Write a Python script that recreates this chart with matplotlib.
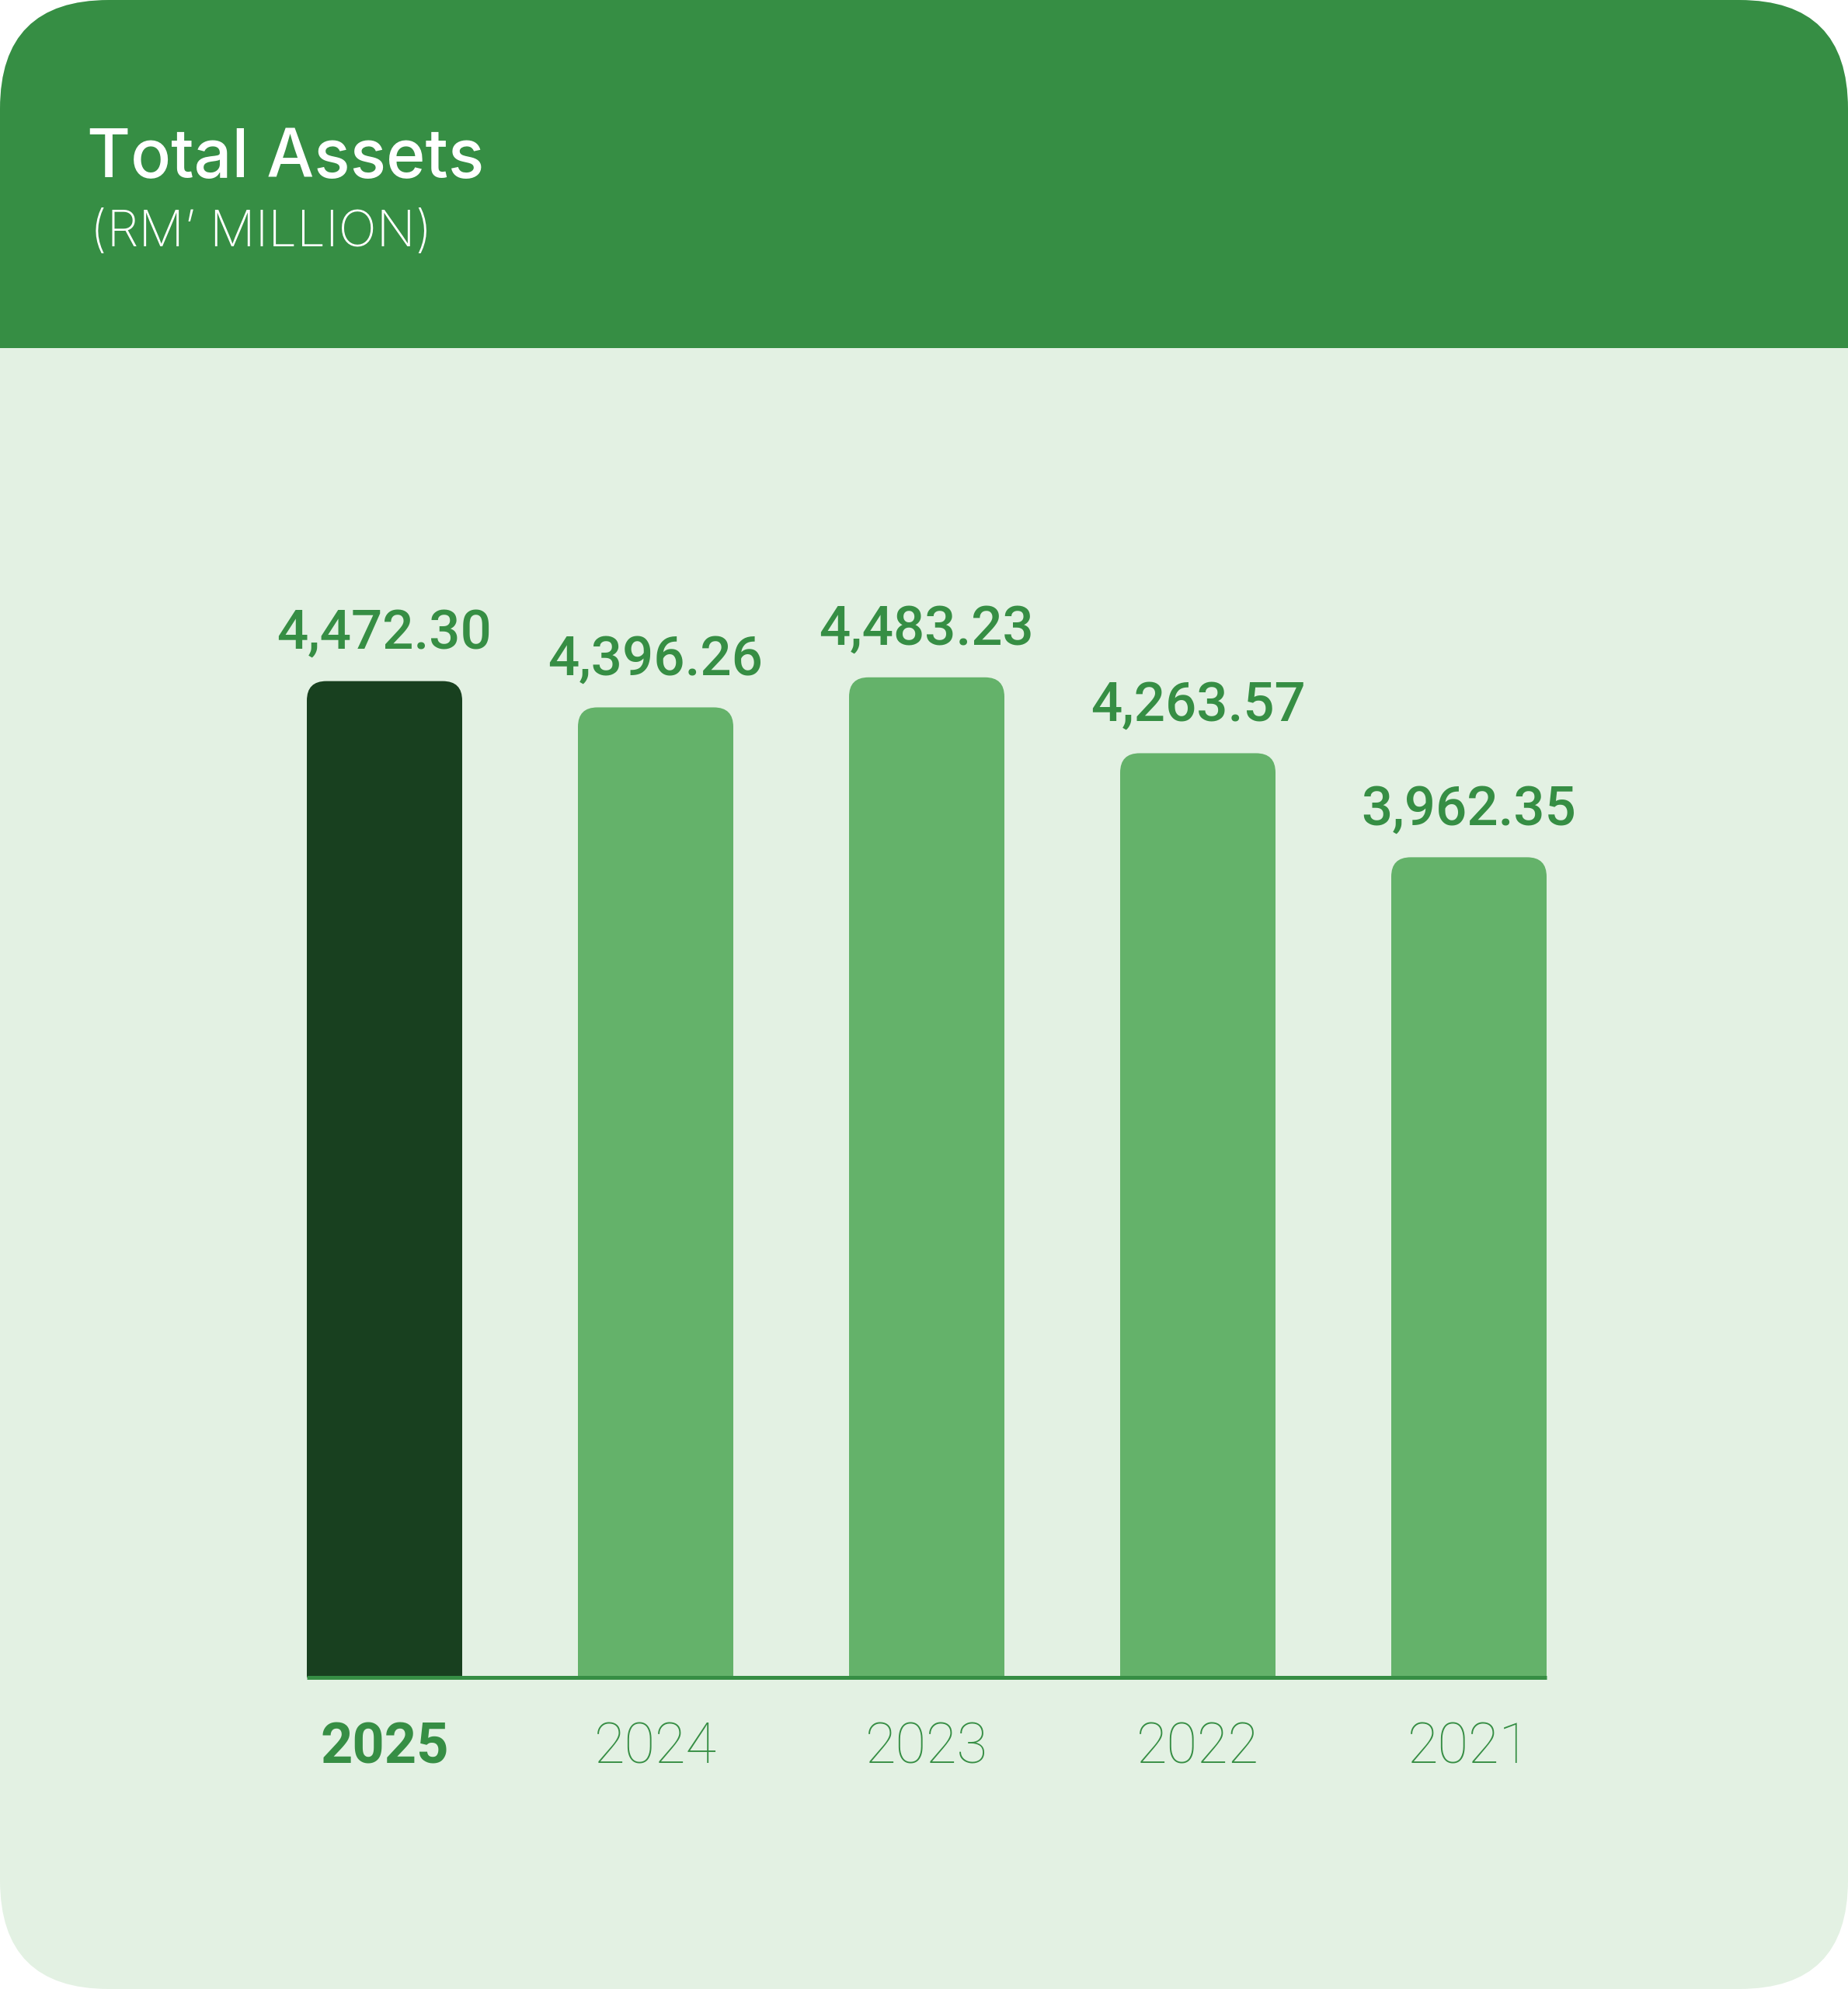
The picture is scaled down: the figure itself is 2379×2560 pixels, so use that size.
import numpy as np
import matplotlib
matplotlib.use("Agg")
import matplotlib.pyplot as plt
from matplotlib.patches import FancyBboxPatch, Rectangle

# -------------------------
# Data
# -------------------------
years = ["2025", "2024", "2023", "2022", "2021"]
values = [4472.30, 4396.26, 4483.23, 4263.57, 3962.35]
value_labels = ["4,472.30", "4,396.26", "4,483.23", "4,263.57", "3,962.35"]
highlight = "2025"

# colours
header_green = "#368E44"
card_bg = "#E3F1E3"
bar_dark = "#18401F"
bar_light = "#64B26A"
text_green = "#368E44"

W, H = 2379, 2560
fig = plt.figure(figsize=(W / 100, H / 100), dpi=100)
fig.patch.set_facecolor("white")

# -------------------------
# Card background (pixel coords)
# -------------------------
bg = fig.add_axes([0, 0, 1, 1])
bg.set_xlim(0, W)
bg.set_ylim(H, 0)
bg.axis("off")

card = FancyBboxPatch((0, 0), W, H, boxstyle="round,pad=0,rounding_size=140",
                      facecolor=card_bg, edgecolor="none")
bg.add_patch(card)
header = Rectangle((0, 0), W, 448, facecolor=header_green, edgecolor="none")
bg.add_patch(header)
header.set_clip_path(card)

bg.text(112, 228, "Total Assets", color="white", fontsize=62, fontfamily="Inter",
        fontweight="medium", va="baseline", ha="left")
bg.text(116, 317, "(RM\u2019 MILLION)", color="white", fontsize=47, fontfamily="Inter",
        fontweight="light", va="baseline", ha="left")

# -------------------------
# Bar chart
# -------------------------
x_left, x_right = 320.5, 2065.5
y_base, y_top = 2159, 447
ax = fig.add_axes([x_left / W, 1 - y_base / H, (x_right - x_left) / W, (y_base - y_top) / H])
ax.patch.set_alpha(0)
ax.axis("off")

y_min = 1588
px_per_unit = 0.4446
ax.set_xlim(-0.5, len(years) - 0.5)
ax.set_ylim(y_min, y_min + (y_base - y_top) / px_per_unit)

px_per_x = (x_right - x_left) / len(years)
aspect = px_per_x / px_per_unit
bar_w = 200 / px_per_x
r = 25 / px_per_x

xs = np.arange(len(years))
for x, v, yr, lab in zip(xs, values, years, value_labels):
    col = bar_dark if yr == highlight else bar_light
    rounded = FancyBboxPatch((x - bar_w / 2, y_min), bar_w, v - y_min,
                             boxstyle=f"round,pad=0,rounding_size={r}",
                             mutation_aspect=aspect, facecolor=col, edgecolor="none")
    ax.add_patch(rounded)
    ax.add_patch(Rectangle((x - bar_w / 2, y_min), bar_w, v - y_min - r * aspect * 1.2,
                           facecolor=col, edgecolor="none"))
    ax.annotate(lab, (x, v), xytext=(0, 42), textcoords="offset pixels",
                ha="center", va="baseline", color=text_green, fontsize=51,
                fontfamily="Roboto", fontweight="medium")
    ax.annotate(yr, (x, y_min), xytext=(0, -111), textcoords="offset pixels",
                ha="center", va="baseline", color=text_green, fontsize=52,
                fontfamily="Roboto",
                fontweight="bold" if yr == highlight else "light",
                annotation_clip=False)

ax.plot([xs[0] - bar_w / 2, xs[-1] + bar_w / 2], [y_min, y_min], color=header_green,
        lw=3.6, solid_capstyle="butt", clip_on=False)

fig.savefig("out.png", dpi=100, facecolor=fig.get_facecolor())
